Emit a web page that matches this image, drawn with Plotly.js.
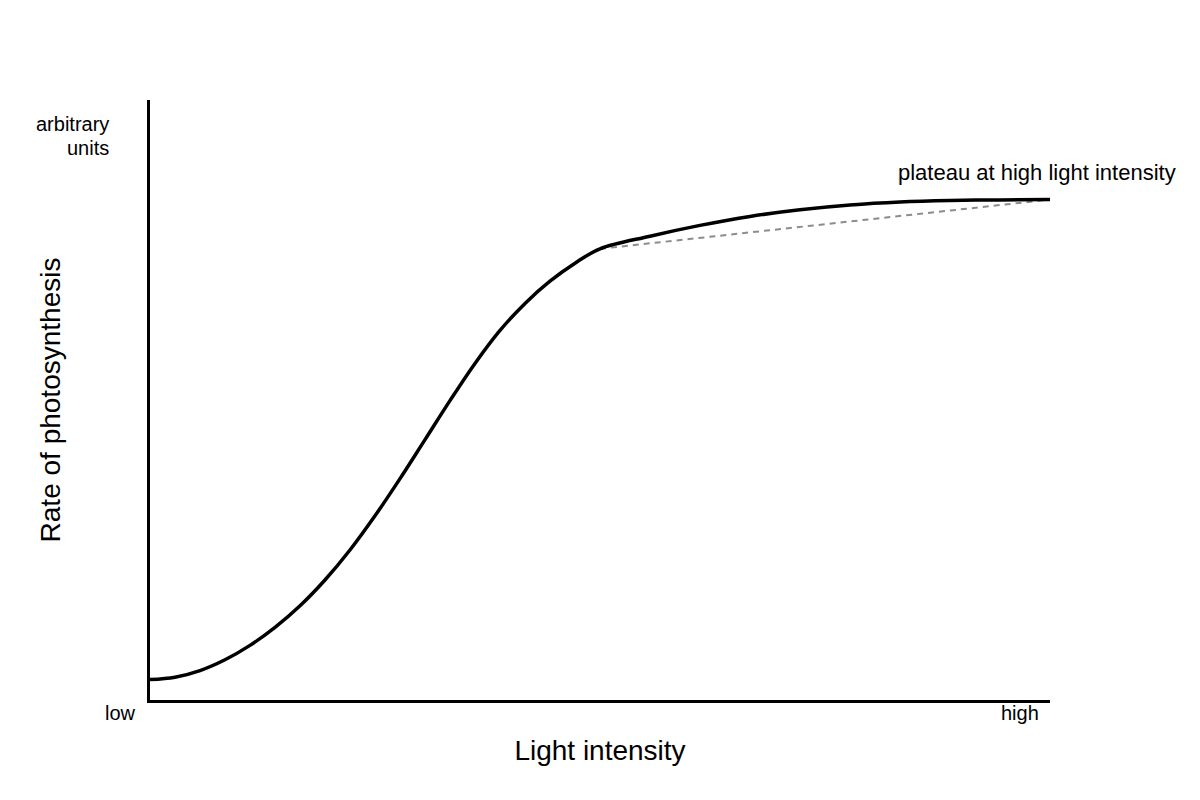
<!DOCTYPE html>
<html>
<head>
<meta charset="utf-8">
<script src="https://cdn.plot.ly/plotly-3.0.1.min.js"></script>
<style>
  html, body { margin: 0; padding: 0; background: #fff; }
  #graphDiv { width: 1200px; height: 800px; }
</style>
</head>
<body>
<div id="graphDiv"></div>
<script>
// light intensity (0 = low, 100 = high) and rate of photosynthesis (arbitrary units, 0-100)
const lightLevel = [0, 2.78, 5.56, 8.33, 11.11, 13.89, 16.67, 19.44, 22.22, 25, 27.78, 30.56, 33.33,
                    36.11, 38.89, 41.67, 44.44, 47.22, 50,
                    55.56, 61.11, 66.67, 72.22, 77.78, 83.33, 88.89, 94.44, 100];
const photoRate  = [3.4, 3.8, 4.9, 6.7, 9.1, 12.1, 15.7, 20.0, 25.0, 30.7, 36.9, 43.4, 49.9,
                    56.1, 61.6, 66.1, 69.8, 72.8, 75.2,
                    77.3, 79.1, 80.6, 81.7, 82.5, 83.0, 83.25, 83.35, 83.4];

// straight reference line across the plateau part
const refLight = [50, 100];
const refRate  = [75.2, 83.4];

const xEndLabels = ["low", "high"];
const yUnitLines = ["arbitrary", "units"];
const plateauNote = "plateau at high light intensity";

const FONT = "Liberation Sans, Arial, sans-serif";

function build_traces() {
    const curve = {
        x: lightLevel,
        y: photoRate,
        mode: "lines",
        type: "scatter",
        line: {color: "#000", width: 3.5, shape: "spline", smoothing: 1},
        hoverinfo: "skip"
    };
    const dashed = {
        x: refLight,
        y: refRate,
        mode: "lines",
        type: "scatter",
        line: {color: "#8c8c8c", width: 2, dash: "6px,5px"},
        hoverinfo: "skip"
    };
    return [dashed, curve];
}

function text_note(x, y, text, anchor, size) {
    return {xref: "paper", yref: "paper", x: x, y: y, xanchor: anchor, yanchor: "middle",
            text: text, showarrow: false, borderpad: 0,
            font: {size: size, family: FONT, color: "#000"}};
}

function build_layout() {
    return {
        width: 1200,
        height: 800,
        showlegend: false,
        paper_bgcolor: "#fff",
        plot_bgcolor: "#fff",
        margin: {l: 150, r: 150, t: 100, b: 100},
        font: {family: FONT, color: "#000"},
        xaxis: {
            range: [0, 100],
            showgrid: false, zeroline: false,
            showticklabels: false, ticks: "",
            showline: true, linecolor: "#000", linewidth: 3,
            title: {text: "Light intensity", font: {size: 28, family: FONT, color: "#000"}, standoff: 39},
            automargin: false, fixedrange: true
        },
        yaxis: {
            range: [0, 100],
            showgrid: false, zeroline: false,
            showticklabels: false, ticks: "",
            showline: true, linecolor: "#000", linewidth: 3,
            title: {text: "Rate of photosynthesis", font: {size: 28, family: FONT, color: "#000"}, standoff: 79},
            automargin: false, fixedrange: true
        },
        annotations: [
            text_note(-0.0333, -0.0217, xEndLabels[0], "center", 20),
            text_note(0.9667, -0.0217, xEndLabels[1], "center", 20),
            text_note(-0.0444, 0.96, yUnitLines[0], "right", 20),
            text_note(-0.0444, 0.92, yUnitLines[1], "right", 20),
            text_note(1.1411, 0.88, plateauNote, "right", 22)
        ]
    };
}

Plotly.newPlot("graphDiv", build_traces(), build_layout(), {displayModeBar: false, staticPlot: true});
</script>
</body>
</html>
